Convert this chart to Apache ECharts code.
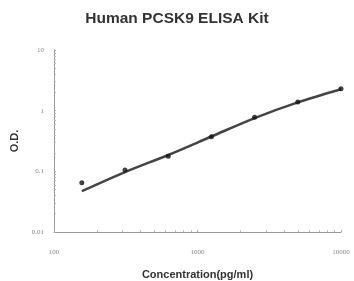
<!DOCTYPE html>
<html>
<head>
<meta charset="utf-8">
<script src="https://cdn.jsdelivr.net/npm/echarts@6/dist/echarts.min.js"></script>
<style>
  html, body { margin: 0; padding: 0; background: #fff; }
  #chart { width: 354px; height: 281px; }
</style>
</head>
<body>
<div id="chart"></div>
<script>
// standard concentrations (pg/ml)
const concentrations = [156.25, 312.5, 625, 1250, 2500, 5000, 10000]
// measured O.D.
const odMeasured = [0.065, 0.105, 0.178, 0.37, 0.776, 1.39, 2.29]
// fitted curve O.D.
const odFitted = [0.047, 0.097, 0.186, 0.375, 0.755, 1.37, 2.25]

const chart = echarts.init(document.getElementById('chart'))

const labelStyle = { color: '#888', fontSize: 7, fontFamily: 'Liberation Serif' }

chart.setOption({
  animation: false,
  backgroundColor: '#fff',
  title: {
    text: 'Human PCSK9 ELISA Kit',
    left: 'center',
    top: 6,
    textStyle: { fontFamily: 'Liberation Sans', fontWeight: 'bold', fontSize: 15.5, color: '#333' }
  },
  grid: { left: 54, right: 13, top: 50, bottom: 49, containLabel: false, outerBoundsMode: 'none' },
  xAxis: {
    type: 'log',
    min: 100,
    max: 10000,
    logBase: 10,
    name: 'Concentration(pg/ml)',
    nameLocation: 'middle',
    nameGap: 37,
    nameTextStyle: { fontFamily: 'Liberation Sans', fontWeight: 'bold', fontSize: 11, color: '#333' },
    axisLine: { lineStyle: { color: '#999', width: 1 } },
    axisTick: { show: true, length: 2, inside: true, lineStyle: { color: '#aaa' } },
    minorTick: { show: true, splitNumber: 9, length: 2, lineStyle: { color: '#bbb' } },
    axisLabel: Object.assign({ margin: 17, formatter: v => String(Math.round(v)) }, labelStyle),
    splitLine: { show: false }
  },
  yAxis: {
    type: 'log',
    min: 0.01,
    max: 10,
    logBase: 10,
    name: 'O.D.',
    nameLocation: 'middle',
    nameGap: 33,
    nameRotate: 90,
    nameTextStyle: { fontFamily: 'Liberation Sans', fontWeight: 'bold', fontSize: 11, color: '#333' },
    axisLine: { show: true, lineStyle: { color: '#999', width: 1 } },
    axisTick: { show: true, length: 2, inside: true, lineStyle: { color: '#aaa' } },
    minorTick: { show: true, splitNumber: 9, length: 2, lineStyle: { color: '#bbb' } },
    axisLabel: Object.assign({ margin: 10 }, labelStyle),
    splitLine: { show: false }
  },
  series: [
    {
      type: 'line',
      data: concentrations.map((c, i) => [c, odFitted[i]]),
      smooth: 0.3,
      symbol: 'none',
      lineStyle: { color: '#444', width: 2.5 },
      z: 2
    },
    {
      type: 'scatter',
      data: concentrations.map((c, i) => [c, odMeasured[i]]),
      symbol: 'circle',
      symbolSize: 5,
      itemStyle: { color: '#111' },
      z: 3
    }
  ]
})
</script>
</body>
</html>
